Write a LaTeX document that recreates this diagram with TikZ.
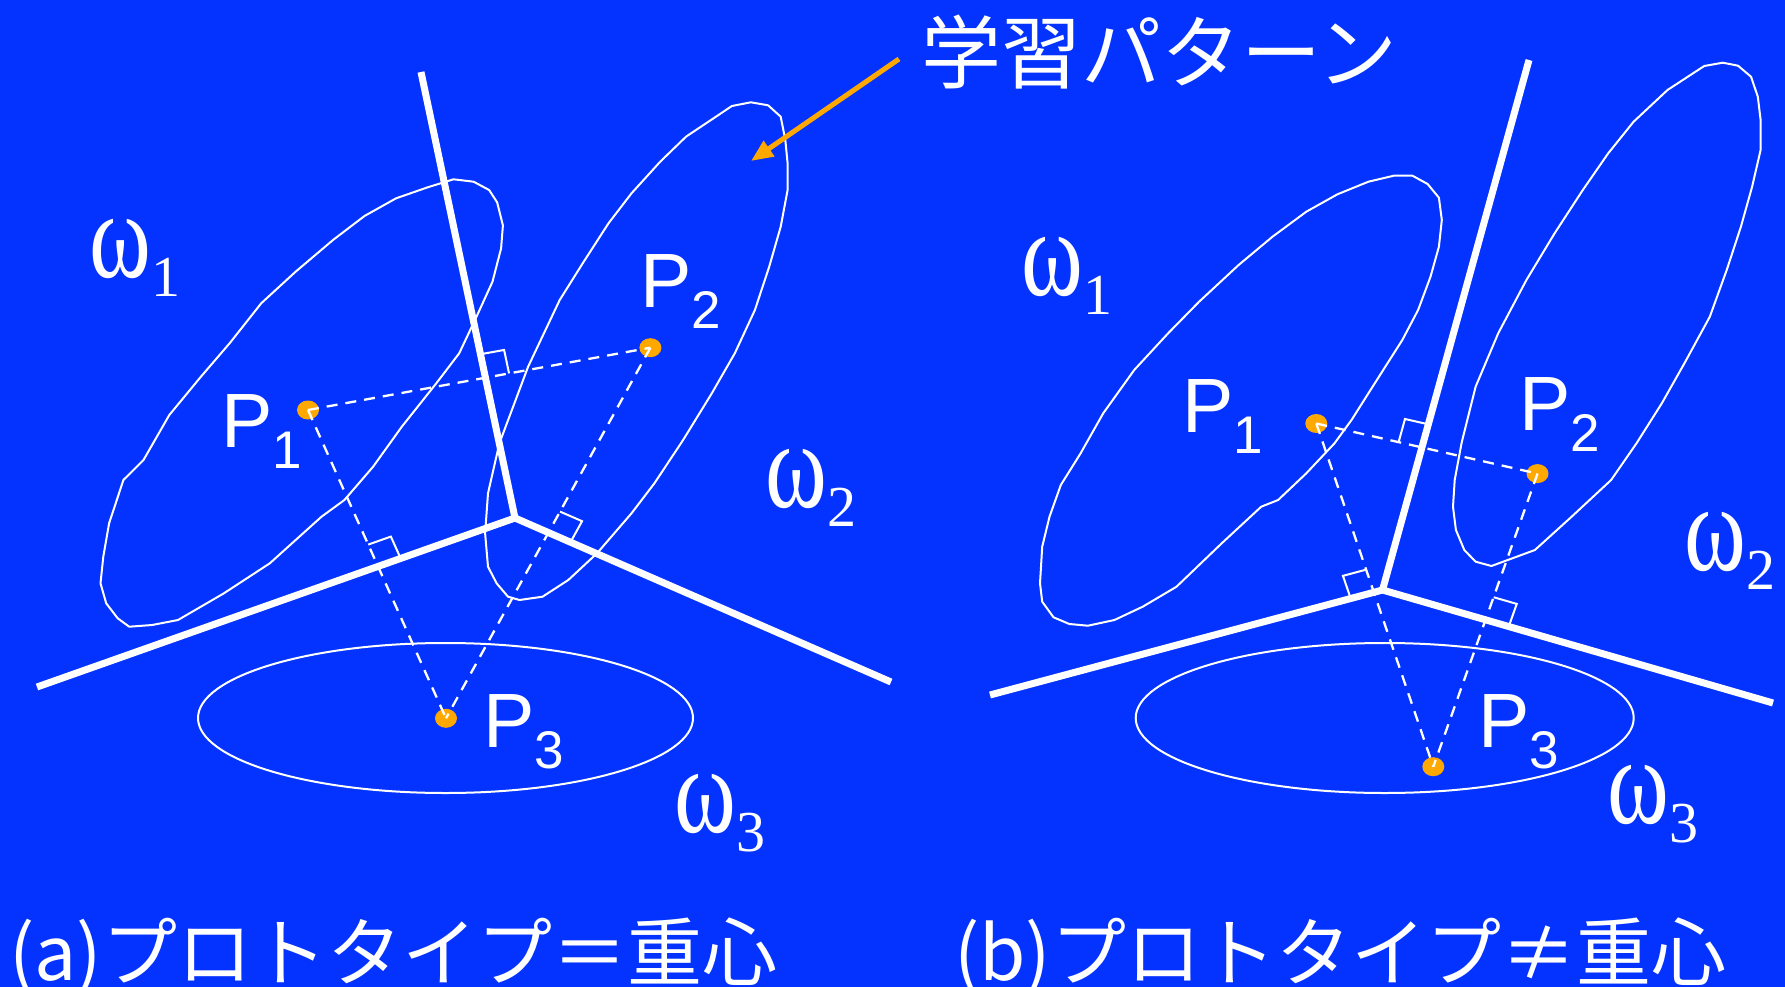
\documentclass[tikz,border=0pt]{standalone}
\usepackage{fontspec}
\newfontfamily\cjk{Noto Sans CJK JP}
\newfontfamily\sansP{Liberation Sans}
\newfontfamily\serifw{Liberation Serif}
\usetikzlibrary{calc,arrows.meta,shapes.geometric}
\definecolor{bg}{RGB}{4,51,255}
\definecolor{dotor}{RGB}{255,168,0}
\newcommand{\wlab}[1]{\fontsize{92}{92}\serifw\scalebox{1.02}[1.35]{ω}\kern1pt\raisebox{-19pt}{\fontsize{58}{58}\serifw #1}}
\newcommand{\plab}[1]{\fontsize{77}{77}\sansP P\raisebox{-21pt}{\fontsize{53}{53}\selectfont #1}}
\newcommand{\ramk}[3]{\draw[rmk] ($(#1)!24pt!(#2)$) -- ($(#1)!24pt!(#2) + (#1)!24pt!(#3) - (#1)$) -- ($(#1)!24pt!(#3)$);}
\begin{document}
\begin{tikzpicture}[x=1pt,y=-1pt,
  bound/.style={white,line width=7pt},
  region/.style={white,line width=2pt,line join=round},
  proj/.style={white,line width=2.3pt,dash pattern=on 11pt off 8pt},
  rmk/.style={white,line width=2pt},
  dot/.style={ellipse,fill=dotor,minimum width=22pt,minimum height=19pt,inner sep=0pt},
  lab/.style={anchor=base west,inner sep=0pt,text=white},
  captext/.style={anchor=base west,inner sep=0pt,text=white,font=\fontsize{75}{75}\cjk},
  pointer/.style={draw=dotor,line width=5pt,-{Triangle[length=22pt,width=18pt]}}
  ]
\path[fill=bg,use as bounding box] (0,0) rectangle (1785,987);

% ---------------- panel (a) ----------------
\draw[region] (453.5,179.3) -- (473.6,181.7) -- (489.1,190) -- (497.1,202.3) -- (502.9,225.3) -- (501.1,248.3) -- (492.5,281.7) -- (476.5,316.7) -- (459.2,353.3) -- (436.3,383.3) -- (401.8,426.7) -- (373.1,466.7) -- (344.4,500) -- (321.5,516.7) -- (269.8,563.3) -- (223.9,593.3) -- (178,620) -- (152.1,625) -- (129.2,626.7) -- (117.7,618.3) -- (106.2,603.3) -- (100.5,583.3) -- (103.3,556.7) -- (109.1,523.3) -- (123.4,480) -- (143.5,460) -- (169.3,415) -- (200.9,376.7) -- (229.6,343.3) -- (261.2,303.3) -- (295.6,271.7) -- (333,240) -- (364.5,216) -- (396.1,198.3) -- (427.7,187.3) -- cycle;
\draw[region] (731.9,106) -- (750.9,102.3) -- (768.1,105.3) -- (780.7,116.7) -- (785.3,140) -- (787.6,163.3) -- (787.6,190) -- (780.7,226.7) -- (769.2,266.7) -- (754.9,310) -- (734.8,353.3) -- (711.8,393.3) -- (683.1,440) -- (654.4,483.3) -- (631.5,513.3) -- (597,553.3) -- (568.3,580) -- (542.5,596.7) -- (519.5,600) -- (508,596.7) -- (496.6,583.3) -- (488,566.7) -- (485.1,533.3) -- (488,493.3) -- (499.4,443.3) -- (528.1,366.7) -- (559.7,300) -- (582.7,263.3) -- (608.5,223.3) -- (631.5,193.3) -- (660.2,161.7) -- (686,136.7) -- cycle;
\draw[region] (445.5,718) ellipse [x radius=247.5pt, y radius=75pt];

\coordinate (aT) at (421,72);
\coordinate (aJ) at (515,518);
\coordinate (aL) at (37,687);
\coordinate (aR) at (891,682);
\draw[bound] (aT) -- (aJ);
\draw[bound] (aL) -- (aJ) -- (aR);

\node[dot] (aP1) at (308,410) {};
\node[dot] (aP2) at (650.4,347.7) {};
\node[dot] (aP3) at (446,718.3) {};
\draw[proj] (aP1.center) -- (aP2.center);
\draw[proj] (aP1.center) -- (aP3.center);
\draw[proj] (aP2.center) -- (aP3.center);

\coordinate (aX12) at (intersection of aP1--aP2 and aT--aJ);
\coordinate (aX13) at (intersection of aP1--aP3 and aL--aJ);
\coordinate (aX23) at (intersection of aP2--aP3 and aJ--aR);
\ramk{aX12}{aT}{aP2}
\ramk{aX13}{aJ}{aP1}
\ramk{aX23}{aR}{aP2}

\node[lab] (aw1) at (89,277) {\wlab{1}};
\node[lab] (aw2) at (765,507) {\wlab{2}};
\node[lab] (aw3) at (674,832) {\wlab{3}};
\node[lab] (ap1) at (221,447) {\plab{1}};
\node[lab] (ap2) at (640,307) {\plab{2}};
\node[lab] (ap3) at (483,747) {\plab{3}};

\node[captext] (capa) at (9,980) {(a)プロトタイプ＝重心};

% ---------------- title and pointer ----------------
\node[captext,font=\fontsize{80}{80}\cjk] (learn) at (921,83) {学習パターン};
\coordinate (ptail) at (899,59);
\coordinate (ptip) at (751,161);
\draw[pointer] (ptail) -- (ptip);

% ---------------- panel (b) ----------------
\draw[region] (1368.4,181.7) -- (1393.8,175.7) -- (1412.4,175.7) -- (1427.6,184) -- (1438.9,197.7) -- (1441.8,220) -- (1438.9,246.7) -- (1430.5,276.7) -- (1418.1,310) -- (1402.3,340) -- (1385.3,366.7) -- (1368.4,393.3) -- (1351.5,420) -- (1334.5,443.3) -- (1306.3,473.3) -- (1278.1,500) -- (1261.2,506.7) -- (1221.7,543.3) -- (1176.5,586.7) -- (1142.7,606.7) -- (1114.4,620) -- (1087.9,625.7) -- (1069.3,624) -- (1053.5,617.3) -- (1042.2,601.7) -- (1040,583.3) -- (1042.2,546.7) -- (1049.5,516.7) -- (1060.8,485) -- (1080.6,453.3) -- (1103.2,413.3) -- (1134.2,370) -- (1168.1,333.3) -- (1199.1,301.7) -- (1238.6,265) -- (1272.5,236.7) -- (1306.3,211.7) -- (1337.4,194.3) -- cycle;
\draw[region] (1704.2,66) -- (1722.8,62.7) -- (1738,65.7) -- (1751,76.7) -- (1757.8,96.7) -- (1760.6,120) -- (1760.6,150) -- (1752.1,186.7) -- (1740.9,226.7) -- (1726.7,270) -- (1709.8,316.7) -- (1684.4,363.3) -- (1661.8,403.3) -- (1636.5,443.3) -- (1611.1,480) -- (1571.6,516.7) -- (1534.9,550) -- (1491.4,566) -- (1475.6,561.7) -- (1464.3,550) -- (1455.9,530) -- (1453,506.7) -- (1454.7,480) -- (1461.5,443.3) -- (1475.6,386.7) -- (1498.2,333.3) -- (1526.4,280) -- (1554.6,233.3) -- (1582.8,190) -- (1608.2,153.3) -- (1633.6,121.7) -- (1667.5,90) -- cycle;
\draw[region] (1384.7,718) ellipse [x radius=249pt, y radius=75pt];

\coordinate (bT) at (1529,60);
\coordinate (bJ) at (1382.5,590);
\coordinate (bL) at (990,695);
\coordinate (bR) at (1773,703);
\draw[bound] (bT) -- (bJ);
\draw[bound] (bL) -- (bJ) -- (bR);

\node[dot] (bP1) at (1316.3,423.5) {};
\node[dot] (bP2) at (1537.5,473.6) {};
\node[dot] (bP3) at (1433.3,766.7) {};
\draw[proj] (bP1.center) -- (bP2.center);
\draw[proj] (bP1.center) -- (bP3.center);
\draw[proj] (bP2.center) -- (bP3.center);

\coordinate (bX12) at (intersection of bP1--bP2 and bT--bJ);
\coordinate (bX13) at (intersection of bP1--bP3 and bL--bJ);
\coordinate (bX23) at (intersection of bP2--bP3 and bJ--bR);
\ramk{bX12}{bT}{bP1}
\ramk{bX13}{bL}{bP1}
\ramk{bX23}{bR}{bP2}

\node[lab] (bw1) at (1021,295) {\wlab{1}};
\node[lab] (bw2) at (1684,570) {\wlab{2}};
\node[lab] (bw3) at (1607,823) {\wlab{3}};
\node[lab] (bp1) at (1182,432) {\plab{1}};
\node[lab] (bp2) at (1519,430) {\plab{2}};
\node[lab] (bp3) at (1478,747) {\plab{3}};

\node[captext] (capb) at (954,980) {(b)プロトタイプ≠重心};
\end{tikzpicture}
\end{document}
